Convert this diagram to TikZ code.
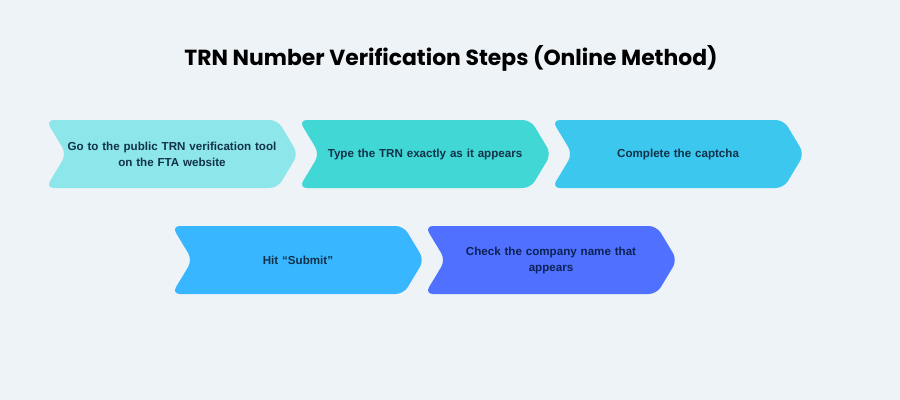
\documentclass[tikz,border=0pt]{standalone}
\usepackage{fontspec}
\setmainfont{Poppins}
\newfontfamily\bodyfont{Liberation Sans}
\usetikzlibrary{positioning,shapes.symbols}
\definecolor{bgcol}{HTML}{EEF3F7}
\definecolor{stepA}{HTML}{8DE7EA}
\definecolor{stepB}{HTML}{40D7D4}
\definecolor{stepC}{HTML}{3BC7EE}
\definecolor{stepD}{HTML}{38B6FF}
\definecolor{stepE}{HTML}{5070FF}
\definecolor{txtcol}{HTML}{12324A}
\definecolor{txtdeep}{HTML}{0D2256}
\begin{document}
\begin{tikzpicture}[x=0.75pt,y=-0.75pt,
    chevron/.style={signal,signal to=east,signal from=west,signal pointer angle=118,
      rounded corners=6pt,fill=#1,draw=none,minimum width=185.5pt,minimum height=51pt,
      inner sep=0pt,text width=158.5pt,align=center,text=txtcol,
      font=\bodyfont\bfseries\fontsize{8.7}{12}\selectfont}]
  \fill[bgcol] (0,0) rectangle (900,400);
  \useasboundingbox (0,0) rectangle (900,400);
  \node[font=\bfseries\fontsize{16.4}{19}\selectfont] (title) at (451,58) {TRN Number Verification Steps (Online Method)};
  % first row
  \node[chevron=stepA,anchor=west] (go) at (66,154) {Go to the public TRN verification tool\\ on the FTA website};
  \node[chevron=stepB,right=15.5pt of go] (type) {Type the TRN exactly as it appears};
  \node[chevron=stepC,right=15.5pt of type] (captcha) {Complete the captcha};
  % second row
  \node[chevron=stepD,anchor=west] (hit) at (192,260) {Hit “Submit”};
  \node[chevron=stepE,right=15.5pt of hit,text=txtdeep] (check) {Check the company name that\\ appears};
\end{tikzpicture}
\end{document}
